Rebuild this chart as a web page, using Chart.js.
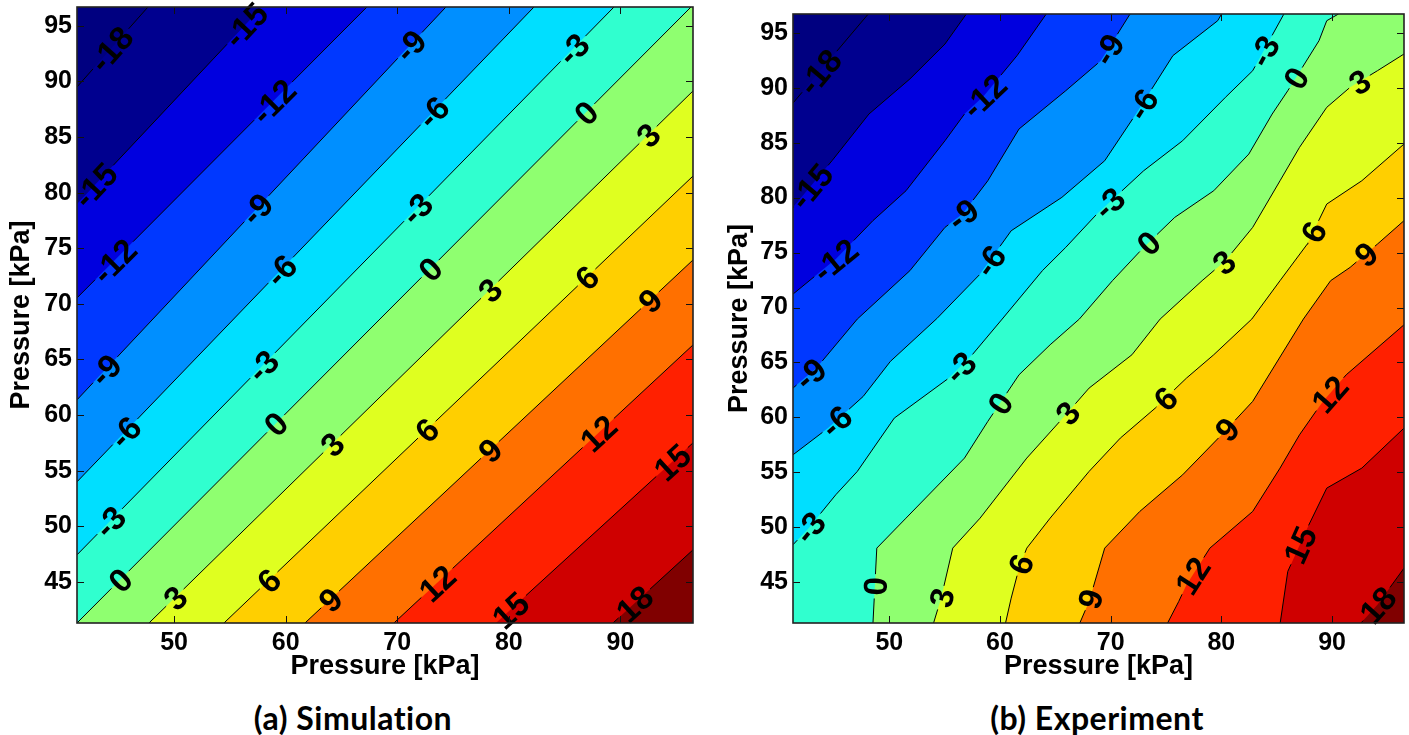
<!DOCTYPE html>
<html><head><meta charset="utf-8">
<script src="https://cdn.jsdelivr.net/npm/chart.js@4.4.0/dist/chart.umd.min.js"></script>
<style>
html,body{margin:0;padding:0;background:#fff;width:1409px;height:735px;overflow:hidden;position:relative}
canvas{position:absolute;top:0}
.ptitle{position:absolute;top:699px;font-family:Lato,'Open Sans',sans-serif;font-weight:700;font-size:32px;letter-spacing:0.5px;line-height:38px;white-space:nowrap;transform:translateX(-50%);color:#000}
</style></head><body>
<canvas id="sim" width="705" height="690" style="left:0;width:705px;height:690px"></canvas>
<canvas id="exp" width="704" height="690" style="left:705px;width:704px;height:690px"></canvas>
<div class="ptitle" style="left:353px">(a) Simulation</div>
<div class="ptitle" style="left:1097px">(b) Experiment</div>
<script>
// ---------- data ----------
const levels = [-18,-15,-12,-9,-6,-3,0,3,6,9,12,15,18];
const xTicks = [50,60,70,80,90];
const yTicks = [45,50,55,60,65,70,75,80,85,90,95];
const xRange = [41.3, 96.5];
const yRange = [41.3, 96.7];

// contour polylines (x, y) per level, simulation
const simContours = [
  [[41.3,89.51],[47.66,96.7]],
  [[41.3,78.99],[57.88,96.7]],
  [[41.3,70.54],[67.28,96.7]],
  [[41.3,61.37],[74.36,96.7]],
  [[41.3,54.0],[82.25,96.7]],
  [[41.3,47.43],[89.42,96.7]],
  [[41.3,41.3],[96.32,96.7]],
  [[47.75,41.3],[96.5,89.15]],
  [[54.47,41.3],[96.5,81.5]],
  [[61.73,41.3],[96.5,73.95]],
  [[69.7,41.3],[96.5,66.31]],
  [[78.84,41.3],[96.5,57.5]],
  [[89.33,41.3],[96.5,47.88]]
];

// contour polylines per level, experiment
const expContours = [
  [[41.3,88.6],[48.1,96.7]],
  [[41.3,79.11],[44.82,83.35],[48.16,87.6],[51.86,90.79],[55.03,93.97],[56.96,96.7]],
  [[41.3,71.22],[45.17,74.41],[48.52,77.9],[51.51,80.62],[55.03,85.17],[56.79,87.6],[58.55,89.27],[61.54,92.91],[64.18,96.7]],
  [[41.3,62.67],[43.41,64.49],[47.11,68.95],[51.86,73.35],[55.03,77.29],[56.61,78.5],[58.9,81.53],[61.72,86.24],[65.94,89.72],[69.11,92.45],[71.75,96.7]],
  [[41.3,56.6],[44.47,59.03],[47.64,61.91],[50.1,65.1],[54.3,69.0],[58.2,73.04],[61.01,76.98],[65.59,80.02],[69.46,83.35],[72.28,87.6],[75.62,92.91],[79.67,96.09],[80.02,96.7]],
  [[41.3,48.42],[42.71,49.93],[45.17,52.97],[47.11,55.09],[50.45,59.94],[55.38,63.58],[57.49,65.7],[60.2,68.95],[63.83,73.35],[65.94,75.47],[68.75,78.5],[72.98,82.44],[76.5,85.17],[80.37,89.12],[82.83,91.54],[85.65,96.7]],
  [[48.52,41.2],[48.87,48.11],[51.51,50.84],[56.79,56.3],[58.9,59.64],[61.72,63.88],[64.53,66.61],[67.17,68.95],[70.16,72.44],[72.98,75.47],[75.79,78.2],[79.31,80.62],[82.48,83.96],[84.59,87.6],[86.0,89.72],[88.82,94.27],[89.52,96.09],[90.58,96.7]],
  [[53.97,41.2],[54.68,43.56],[55.73,48.11],[58.2,50.84],[62.42,56.3],[65.94,60.24],[68.05,62.67],[71.92,65.7],[74.47,68.95],[78.26,72.44],[80.37,74.26],[82.83,77.29],[85.3,81.53],[87.06,84.57],[89.52,88.21],[91.63,90.03],[94.1,91.54],[96.5,93.06]],
  [[60.48,41.2],[61.01,43.56],[61.72,46.29],[62.42,48.11],[64.53,50.84],[68.05,55.09],[70.87,58.12],[74.03,60.85],[76.85,63.58],[79.31,65.7],[82.75,68.95],[85.3,72.44],[87.76,75.77],[89.52,79.41],[92.69,81.53],[96.5,84.87]],
  [[67.17,41.2],[68.05,43.26],[69.46,48.11],[72.63,51.45],[76.5,54.78],[80.02,58.42],[82.83,61.46],[87.41,68.95],[89.87,72.44],[91.63,73.65],[94.1,75.77],[96.5,77.9]],
  [[75.09,41.2],[76.15,43.26],[76.85,44.78],[78.96,48.11],[82.83,51.45],[85.3,55.39],[87.06,58.42],[89.17,61.46],[91.28,63.88],[96.5,68.43]],
  [[85.3,41.2],[86.0,45.99],[87.76,49.93],[89.52,53.57],[92.69,55.39],[96.5,59.03]],
  [[92.52,41.2],[94.1,42.96],[96.5,46.29]]
];

// inline contour labels: [level, x, y]
const simLabels = [
  [-18,44.26,93.0],
  [-15,42.9,80.7],[-15,56.4,95.1],
  [-12,44.7,73.8],[-12,59.04,88.07],
  [-9,43.8,64.1],[-9,57.5,78.45],[-9,71.1,93.28],
  [-6,45.6,58.5],[-6,59.7,72.9],[-6,73.2,87.26],
  [-3,44.26,50.4],[-3,58.1,64.3],[-3,71.85,78.45],[-3,85.9,92.8],
  [0,45.15,45.2],[0,59.2,59.12],[0,73.2,72.9],[0,87.3,86.8],
  [3,50.08,43.57],[3,64.24,57.3],[3,78.3,71.26],[3,92.46,85.2],
  [6,58.6,45.0],[6,72.66,58.67],[6,87.0,72.34],
  [9,64.0,43.4],[9,78.3,56.87],[9,92.6,70.36],
  [12,73.56,44.9],[12,88.0,58.4],
  [15,80.1,42.49],[15,94.6,55.8],
  [18,91.2,43.1]
];
const expLabels = [
  [-18,44.29,90.94],
  [-15,43.06,80.93],
  [-12,45.17,74.26],[-12,58.55,89.27],
  [-9,43.06,63.73],[-9,56.61,78.5],[-9,69.99,93.36],
  [-6,45.35,59.49],[-6,59.08,74.26],[-6,72.63,88.66],
  [-3,43.06,49.78],[-3,56.79,64.19],[-3,69.81,79.56],[-3,84.07,93.21],
  [0,49.04,44.62],[0,59.96,61.31],[0,73.51,75.77],[0,86.88,90.79],
  [3,54.85,43.56],[3,66.29,60.24],[3,80.37,73.95],[3,92.87,89.88],
  [6,62.42,46.44],[6,74.91,61.76],[6,88.11,76.98],
  [9,68.4,43.41],[9,80.72,58.73],[9,93.04,74.86],
  [12,77.73,45.38],[12,89.52,62.37],
  [15,87.06,48.42],
  [18,94.1,42.96]
];

// ---------- style ----------
const bandColors = ['#000080','#00008F','#0000DF','#0038FF','#008FFF','#00DFFF','#30FFCF','#8FFF70','#DFFF20','#FFCF00','#FF7000','#FF2000','#CF0000','#800000'];
const FAMILY = "'Liberation Sans', Arial, sans-serif";
const LABEL_SIZE = 33;
const LABEL_FONT = 'bold ' + LABEL_SIZE + 'px ' + FAMILY;
const TICK_FONT = {family: FAMILY, size: 25, weight: 'bold'};
const AXIS_FONT = {family: FAMILY, size: 27, weight: 'bold'};

function makePanel(id, contours, labels, lay, yTitlePad) {
  const sx = (lay.right - lay.left) / (xRange[1] - xRange[0]);
  const sy = (lay.bottom - lay.top) / (yRange[1] - yRange[0]);
  const toPx = p => [(p[0] - xRange[0]) * sx, -(p[1] - yRange[0]) * sy];
  const mctx = document.createElement('canvas').getContext('2d');
  mctx.font = LABEL_FONT;
  const gaps = contours.map(() => []);
  const placed = [];

  labels.forEach(([lev, lx, ly]) => {
    const k = levels.indexOf(lev);
    const P = contours[k].map(toPx);
    const q = toPx([lx, ly]);
    let best = null, cum = 0;
    for (let i = 0; i < P.length - 1; i++) {
      const a = P[i], b = P[i + 1];
      const dx = b[0] - a[0], dy = b[1] - a[1];
      const L = Math.hypot(dx, dy);
      let t = ((q[0] - a[0]) * dx + (q[1] - a[1]) * dy) / (L * L);
      t = Math.max(0, Math.min(1, t));
      const px = a[0] + t * dx, py = a[1] + t * dy;
      const d = Math.hypot(q[0] - px, q[1] - py);
      if (!best || d < best.d) best = {d, s: cum + t * L, px, py, ang: Math.atan2(dy, dx)};
      cum += L;
    }
    const hw = mctx.measureText(String(lev)).width / 2 + 3;
    gaps[k].push([best.s - hw, best.s + hw]);
    placed.push({text: String(lev), x: xRange[0] + best.px / sx, y: yRange[0] - best.py / sy, ang: best.ang});
  });

  const strokeData = contours.map((poly, k) => {
    const P = poly.map(toPx);
    const cumArr = [0];
    for (let i = 1; i < P.length; i++) cumArr.push(cumArr[i - 1] + Math.hypot(P[i][0] - P[i - 1][0], P[i][1] - P[i - 1][1]));
    const total = cumArr[cumArr.length - 1];
    const at = s => {
      s = Math.max(0, Math.min(total, s));
      let i = 0;
      while (i < cumArr.length - 2 && cumArr[i + 1] < s) i++;
      const seg = cumArr[i + 1] - cumArr[i];
      const t = seg > 0 ? (s - cumArr[i]) / seg : 0;
      return [poly[i][0] + t * (poly[i + 1][0] - poly[i][0]), poly[i][1] + t * (poly[i + 1][1] - poly[i][1])];
    };
    const g = gaps[k].slice().sort((a, b) => a[0] - b[0]);
    const ev = [];
    poly.forEach((p, i) => ev.push({s: cumArr[i], p, type: 0}));
    g.forEach(([a, b]) => { ev.push({s: a, p: at(a), type: 1}); ev.push({s: b, p: at(b), type: 2}); });
    ev.sort((u, v) => u.s - v.s || u.type - v.type);
    const inGap = s => g.some(([a, b]) => s > a && s < b);
    const out = [];
    ev.forEach(e => {
      if (e.type === 0) { if (!inGap(e.s)) out.push({x: e.p[0], y: e.p[1]}); }
      else if (e.type === 1) { if (e.s > 0) out.push({x: e.p[0], y: e.p[1]}); out.push({x: e.p[0], y: null}); }
      else { if (e.s < total) out.push({x: e.p[0], y: e.p[1]}); }
    });
    return out;
  });

  const ext = poly => {
    const f = poly[0], l = poly[poly.length - 1];
    return [[Math.min(f[0] - 30, xRange[0] - 5), f[1] - 30], ...poly, [Math.max(l[0] + 30, xRange[1] + 5), l[1] + 30]];
  };

  const datasets = [];
  contours.forEach((poly, k) => datasets.push({
    data: ext(poly).map(p => ({x: p[0], y: p[1]})),
    fill: 'start', backgroundColor: bandColors[k + 1],
    borderColor: 'rgba(0,0,0,0)', borderWidth: 0, pointRadius: 0, pointHoverRadius: 0,
    tension: 0, order: 100 - k, clip: 0
  }));
  strokeData.forEach(d => datasets.push({
    data: d, fill: false, borderColor: '#000', borderWidth: 1, pointRadius: 0, pointHoverRadius: 0,
    tension: 0, order: 0, clip: 0, spanGaps: false
  }));

  const bgPlugin = {id: 'bg', beforeDatasetsDraw(chart) {
    const a = chart.chartArea, ctx = chart.ctx;
    ctx.save(); ctx.fillStyle = bandColors[0];
    ctx.fillRect(a.left, a.top, a.right - a.left, a.bottom - a.top); ctx.restore();
  }};
  const labelPlugin = {id: 'clabels', afterDatasetsDraw(chart) {
    const ctx = chart.ctx, xs = chart.scales.x, ys = chart.scales.y;
    ctx.save();
    ctx.font = LABEL_FONT; ctx.fillStyle = '#000'; ctx.textAlign = 'center'; ctx.textBaseline = 'alphabetic';
    placed.forEach(l => {
      ctx.save();
      ctx.translate(xs.getPixelForValue(l.x), ys.getPixelForValue(l.y));
      ctx.rotate(l.ang);
      ctx.fillText(l.text, 0, LABEL_SIZE * 0.36);
      ctx.restore();
    });
    ctx.restore();
  }};
  const framePlugin = {id: 'frame', afterDraw(chart) {
    const a = chart.chartArea, ctx = chart.ctx, xs = chart.scales.x, ys = chart.scales.y;
    ctx.save();
    ctx.strokeStyle = '#111'; ctx.lineWidth = 1;
    ctx.beginPath();
    xTicks.forEach(v => {
      const p = Math.round(xs.getPixelForValue(v)) + 0.5;
      ctx.moveTo(p, a.bottom); ctx.lineTo(p, a.bottom - 7);
      ctx.moveTo(p, a.top); ctx.lineTo(p, a.top + 7);
    });
    yTicks.forEach(v => {
      const p = Math.round(ys.getPixelForValue(v)) + 0.5;
      ctx.moveTo(a.left, p); ctx.lineTo(a.left + 7, p);
      ctx.moveTo(a.right, p); ctx.lineTo(a.right - 7, p);
    });
    ctx.stroke();
    ctx.lineWidth = 1.6; ctx.strokeStyle = '#222';
    ctx.strokeRect(a.left, a.top, a.right - a.left, a.bottom - a.top);
    ctx.restore();
  }};

  return new Chart(document.getElementById(id), {
    type: 'line',
    data: {datasets},
    options: {
      responsive: false, animation: false, devicePixelRatio: 1, events: [],
      layout: {padding: {left: 0, top: lay.top, right: lay.canvasW - lay.right, bottom: 0}},
      plugins: {legend: {display: false}, tooltip: {enabled: false}},
      scales: {
        x: {
          type: 'linear', position: 'bottom', min: xRange[0], max: xRange[1],
          afterBuildTicks: s => { s.ticks = xTicks.map(v => ({value: v})); },
          afterFit: s => { s.height = lay.canvasH - lay.bottom; s.paddingLeft = 0; s.paddingRight = 0; },
          grid: {display: false, drawTicks: false}, border: {display: false},
          ticks: {font: TICK_FONT, color: '#000', padding: 5, maxRotation: 0, autoSkip: false},
          title: {display: true, text: 'Pressure [kPa]', font: AXIS_FONT, color: '#000', padding: {top: 0, bottom: 7}}
        },
        y: {
          type: 'linear', position: 'left', min: yRange[0], max: yRange[1],
          afterBuildTicks: s => { s.ticks = yTicks.map(v => ({value: v})); },
          afterFit: s => { s.width = lay.left; s.paddingTop = 0; s.paddingBottom = 0; },
          grid: {display: false, drawTicks: false}, border: {display: false},
          ticks: {font: TICK_FONT, color: '#000', padding: 5, autoSkip: false},
          title: {display: true, text: 'Pressure [kPa]', font: AXIS_FONT, color: '#000', padding: {top: yTitlePad, bottom: 0}}
        }
      }
    },
    plugins: [bgPlugin, labelPlugin, framePlugin]
  });
}

makePanel('sim', simContours, simLabels, {left: 77, right: 693, top: 7, bottom: 623, canvasW: 705, canvasH: 690}, 5);
makePanel('exp', expContours, expLabels, {left: 88, right: 699, top: 14, bottom: 623, canvasW: 704, canvasH: 690}, 18);
</script>
</body></html>
